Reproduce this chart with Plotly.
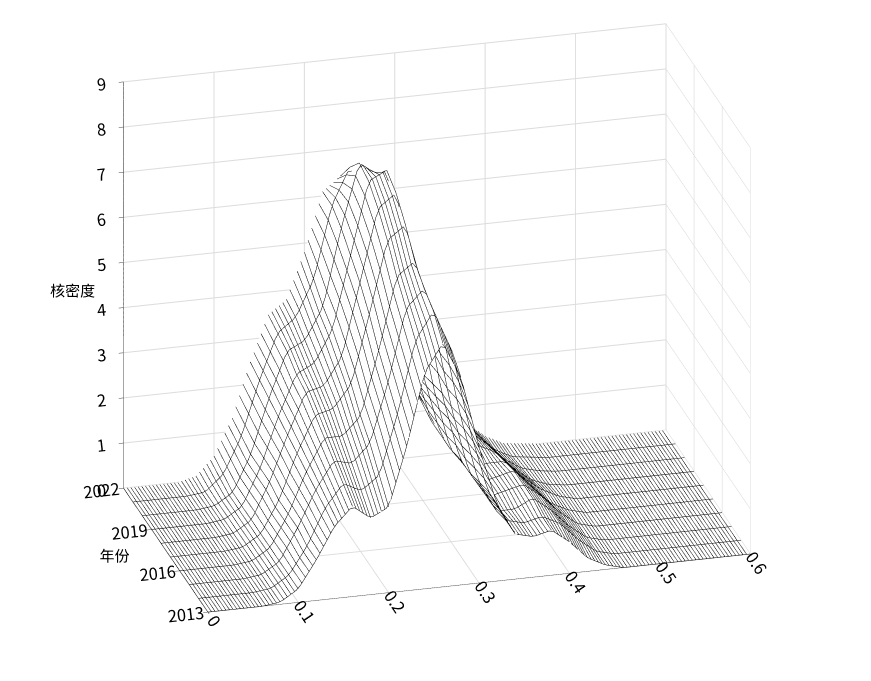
import numpy as np
import plotly.graph_objects as go

x_vals = [round(0.02 * i, 2) for i in range(31)]
years = [2013, 2014, 2015, 2016, 2017, 2018, 2019, 2020, 2021, 2022]

# kernel density, one row per year
d2013 = [0, 0, 0, 0, 0.05, 0.3, 0.9, 1.6, 2.0, 1.7, 1.9, 3.2, 4.8, 5.4, 4.6, 3.0, 1.7, 1.0, 0.9, 1.0, 0.7, 0.3, 0.1, 0, 0, 0, 0, 0, 0, 0, 0]
d2014 = [0, 0, 0, 0, 0.05, 0.3, 0.9, 1.7, 2.2, 2.0, 2.3, 3.6, 5.2, 5.8, 4.9, 3.1, 1.7, 1.0, 0.9, 1.0, 0.8, 0.4, 0.1, 0, 0, 0, 0, 0, 0, 0, 0]
d2015 = [0, 0, 0, 0, 0.05, 0.3, 1.0, 1.8, 2.4, 2.3, 2.7, 4.0, 5.6, 6.0, 5.0, 3.1, 1.6, 0.9, 0.9, 1.1, 0.8, 0.4, 0.1, 0, 0, 0, 0, 0, 0, 0, 0]
d2016 = [0, 0, 0, 0, 0.05, 0.3, 1.0, 1.9, 2.6, 2.6, 3.0, 4.4, 6.0, 6.3, 5.0, 3.0, 1.5, 0.9, 1.0, 1.1, 0.8, 0.4, 0.1, 0, 0, 0, 0, 0, 0, 0, 0]
d2017 = [0, 0, 0, 0, 0.05, 0.3, 1.0, 2.0, 2.8, 2.9, 3.4, 4.9, 6.5, 6.8, 5.2, 3.0, 1.5, 0.9, 1.0, 1.1, 0.7, 0.3, 0.1, 0, 0, 0, 0, 0, 0, 0, 0]
d2018 = [0, 0, 0, 0, 0.05, 0.3, 1.1, 2.1, 3.0, 3.1, 3.7, 5.3, 6.9, 7.2, 5.3, 2.9, 1.4, 0.9, 1.0, 1.0, 0.6, 0.3, 0.1, 0, 0, 0, 0, 0, 0, 0, 0]
d2019 = [0, 0, 0, 0, 0.05, 0.3, 1.1, 2.2, 3.1, 3.3, 4.0, 5.6, 7.2, 7.4, 5.2, 2.8, 1.4, 1.0, 1.1, 0.9, 0.5, 0.2, 0.05, 0, 0, 0, 0, 0, 0, 0, 0]
d2020 = [0, 0, 0, 0, 0.05, 0.3, 1.1, 2.3, 3.3, 3.5, 4.2, 5.9, 7.3, 7.0, 4.9, 2.7, 1.4, 1.1, 1.1, 0.8, 0.4, 0.15, 0.05, 0, 0, 0, 0, 0, 0, 0, 0]
d2021 = [0, 0, 0, 0, 0.05, 0.4, 1.2, 2.4, 3.4, 3.7, 4.5, 6.1, 6.9, 6.2, 4.4, 2.6, 1.5, 1.2, 1.0, 0.7, 0.3, 0.1, 0.05, 0, 0, 0, 0, 0, 0, 0, 0]
d2022 = [0, 0, 0, 0, 0.1, 0.5, 1.3, 2.5, 3.5, 3.8, 4.8, 6.1, 6.4, 5.6, 4.1, 2.6, 1.6, 1.2, 0.9, 0.6, 0.3, 0.1, 0.05, 0, 0, 0, 0, 0, 0, 0, 0]

z = np.array([d2013, d2014, d2015, d2016, d2017, d2018, d2019, d2020, d2021, d2022])

fig = go.Figure()
fig.add_trace(go.Surface(
    x=x_vals, y=years, z=z,
    colorscale=[[0, 'white'], [1, 'white']],
    showscale=False,
    lighting=dict(ambient=1, diffuse=0, specular=0, fresnel=0),
    contours=dict(
        x=dict(show=True, start=0, end=0.6, size=0.004, color='black', width=1),
        y=dict(show=True, start=2013, end=2022, size=1, color='black', width=1.5),
    ),
    hoverinfo='skip',
))

axis_common = dict(showbackground=False, gridcolor='#dcdcdc', linecolor='black',
                   showline=True, ticks='outside', zeroline=False,
                   tickfont=dict(size=14, color='black'))
fig.update_layout(
    width=871, height=681,
    font=dict(family='Noto Sans CJK SC', color='black'),
    paper_bgcolor='white',
    margin=dict(l=0, r=0, t=0, b=0),
    scene=dict(
        xaxis=dict(range=[0, 0.6], dtick=0.1, title='', **axis_common),
        yaxis=dict(range=[2013, 2022], tickvals=[2013, 2016, 2019, 2022],
                   title=dict(text='年份', font=dict(size=15)), **axis_common),
        zaxis=dict(range=[0, 9], dtick=1,
                   title=dict(text='核密度', font=dict(size=15)), **axis_common),
        aspectmode='manual', aspectratio=dict(x=1.65, y=0.95, z=1.3),
        domain=dict(x=[0.0, 1.0], y=[0.0, 1.0]),
        camera=dict(eye=dict(x=-0.42, y=-1.63, z=0.63),
                    center=dict(x=0.02, y=0, z=-0.1),
                    projection=dict(type='orthographic')),
    ),
)
fig.write_html("out.html")
